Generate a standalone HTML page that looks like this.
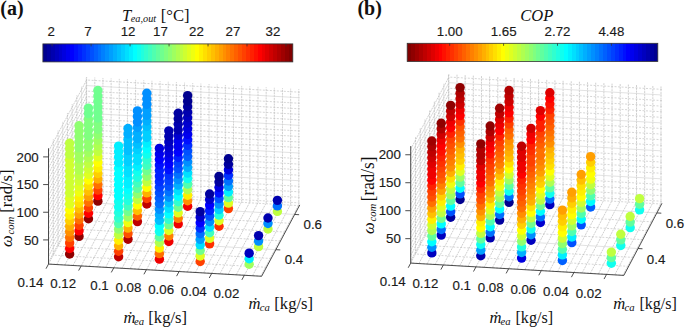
<!DOCTYPE html><html><head><meta charset="utf-8"><style>
html,body{margin:0;padding:0;background:#fff;}
body{width:685px;height:328px;overflow:hidden;position:relative;}
svg{position:absolute;left:0;top:0;}
.gm{stroke:#c0c0c0;stroke-width:0.65;stroke-dasharray:2 1.5;fill:none}
.gv{stroke:#bcbcbc;stroke-width:0.7;stroke-dasharray:2 0.8;fill:none}
.gMd{stroke:#d0d0d0;stroke-width:0.7;fill:none}
.gM{stroke:#d6d6d6;stroke-width:0.7;fill:none}
.ax line{stroke:#3a3a3a;stroke-width:0.9}
.tl text{font-family:"Liberation Sans",sans-serif;font-size:13.3px;fill:#1a1a1a;stroke:#1a1a1a;stroke-width:0.15}
.sr{font-family:"Liberation Serif",serif;fill:#111}
</style></head><body>
<svg width="685" height="328" viewBox="0 0 685 328">

<g><line class="gv" x1="298.80" y1="204.89" x2="298.80" y2="89.17"/><line class="gv" x1="290.64" y1="204.43" x2="290.64" y2="88.70"/><line class="gv" x1="282.48" y1="203.96" x2="282.48" y2="88.23"/><line class="gv" x1="274.32" y1="203.49" x2="274.32" y2="87.77"/><line class="gv" x1="266.16" y1="203.03" x2="266.16" y2="87.30"/><line class="gv" x1="258.00" y1="202.56" x2="258.00" y2="86.84"/><line class="gv" x1="249.84" y1="202.09" x2="249.84" y2="86.37"/><line class="gv" x1="241.68" y1="201.63" x2="241.68" y2="85.90"/><line class="gv" x1="233.52" y1="201.16" x2="233.52" y2="85.44"/><line class="gv" x1="225.36" y1="200.70" x2="225.36" y2="84.97"/><line class="gv" x1="217.20" y1="200.23" x2="217.20" y2="84.50"/><line class="gv" x1="209.04" y1="199.76" x2="209.04" y2="84.04"/><line class="gv" x1="200.88" y1="199.30" x2="200.88" y2="83.57"/><line class="gv" x1="192.72" y1="198.83" x2="192.72" y2="83.11"/><line class="gv" x1="184.56" y1="198.36" x2="184.56" y2="82.64"/><line class="gv" x1="176.40" y1="197.90" x2="176.40" y2="82.17"/><line class="gv" x1="168.24" y1="197.43" x2="168.24" y2="81.71"/><line class="gv" x1="160.08" y1="196.97" x2="160.08" y2="81.24"/><line class="gv" x1="151.92" y1="196.50" x2="151.92" y2="80.77"/><line class="gv" x1="143.76" y1="196.03" x2="143.76" y2="80.31"/><line class="gv" x1="135.60" y1="195.57" x2="135.60" y2="79.84"/><line class="gv" x1="127.43" y1="195.10" x2="127.43" y2="79.38"/><line class="gv" x1="119.27" y1="194.63" x2="119.27" y2="78.91"/><line class="gv" x1="111.11" y1="194.17" x2="111.11" y2="78.44"/><line class="gv" x1="102.95" y1="193.70" x2="102.95" y2="77.98"/><line class="gv" x1="94.79" y1="193.23" x2="94.79" y2="77.51"/><line class="gv" x1="86.63" y1="192.77" x2="86.63" y2="77.04"/><line class="gm" x1="299.78" y1="202.90" x2="86.63" y2="190.72"/><line class="gm" x1="299.78" y1="197.37" x2="86.63" y2="185.19"/><line class="gm" x1="299.78" y1="191.83" x2="86.63" y2="179.65"/><line class="gm" x1="299.78" y1="186.30" x2="86.63" y2="174.12"/><line class="gM" x1="299.78" y1="180.76" x2="86.63" y2="168.58"/><line class="gm" x1="299.78" y1="175.23" x2="86.63" y2="163.05"/><line class="gm" x1="299.78" y1="169.69" x2="86.63" y2="157.51"/><line class="gm" x1="299.78" y1="164.16" x2="86.63" y2="151.98"/><line class="gm" x1="299.78" y1="158.62" x2="86.63" y2="146.45"/><line class="gM" x1="299.78" y1="153.09" x2="86.63" y2="140.91"/><line class="gm" x1="299.78" y1="147.56" x2="86.63" y2="135.38"/><line class="gm" x1="299.78" y1="142.02" x2="86.63" y2="129.84"/><line class="gm" x1="299.78" y1="136.49" x2="86.63" y2="124.31"/><line class="gm" x1="299.78" y1="130.95" x2="86.63" y2="118.77"/><line class="gM" x1="299.78" y1="125.42" x2="86.63" y2="113.24"/><line class="gm" x1="299.78" y1="119.88" x2="86.63" y2="107.70"/><line class="gm" x1="299.78" y1="114.35" x2="86.63" y2="102.17"/><line class="gm" x1="299.78" y1="108.82" x2="86.63" y2="96.64"/><line class="gm" x1="299.78" y1="103.28" x2="86.63" y2="91.10"/><line class="gM" x1="299.78" y1="97.75" x2="86.63" y2="85.57"/><line class="gm" x1="299.78" y1="92.21" x2="86.63" y2="80.03"/><line class="gv" x1="48.60" y1="263.92" x2="48.60" y2="148.20"/><line class="gv" x1="53.31" y1="255.12" x2="53.31" y2="139.39"/><line class="gv" x1="58.02" y1="246.31" x2="58.02" y2="130.59"/><line class="gM" x1="62.72" y1="237.51" x2="62.72" y2="121.78"/><line class="gv" x1="67.43" y1="228.70" x2="67.43" y2="112.97"/><line class="gv" x1="72.14" y1="219.89" x2="72.14" y2="104.17"/><line class="gv" x1="76.84" y1="211.09" x2="76.84" y2="95.36"/><line class="gM" x1="81.55" y1="202.28" x2="81.55" y2="86.56"/><line class="gv" x1="86.26" y1="193.47" x2="86.26" y2="77.75"/><line class="gv" x1="48.51" y1="262.05" x2="86.63" y2="190.72"/><line class="gv" x1="48.51" y1="256.52" x2="86.63" y2="185.19"/><line class="gv" x1="48.51" y1="250.98" x2="86.63" y2="179.65"/><line class="gv" x1="48.51" y1="245.45" x2="86.63" y2="174.12"/><line class="gMd" x1="48.51" y1="239.92" x2="86.63" y2="168.58"/><line class="gv" x1="48.51" y1="234.38" x2="86.63" y2="163.05"/><line class="gv" x1="48.51" y1="228.85" x2="86.63" y2="157.51"/><line class="gv" x1="48.51" y1="223.31" x2="86.63" y2="151.98"/><line class="gv" x1="48.51" y1="217.78" x2="86.63" y2="146.45"/><line class="gMd" x1="48.51" y1="212.24" x2="86.63" y2="140.91"/><line class="gv" x1="48.51" y1="206.71" x2="86.63" y2="135.38"/><line class="gv" x1="48.51" y1="201.17" x2="86.63" y2="129.84"/><line class="gv" x1="48.51" y1="195.64" x2="86.63" y2="124.31"/><line class="gv" x1="48.51" y1="190.11" x2="86.63" y2="118.77"/><line class="gMd" x1="48.51" y1="184.57" x2="86.63" y2="113.24"/><line class="gv" x1="48.51" y1="179.04" x2="86.63" y2="107.70"/><line class="gv" x1="48.51" y1="173.50" x2="86.63" y2="102.17"/><line class="gv" x1="48.51" y1="167.97" x2="86.63" y2="96.64"/><line class="gv" x1="48.51" y1="162.43" x2="86.63" y2="91.10"/><line class="gMd" x1="48.51" y1="156.90" x2="86.63" y2="85.57"/><line class="gv" x1="48.51" y1="151.37" x2="86.63" y2="80.03"/><line class="gv" x1="260.67" y1="276.22" x2="298.80" y2="204.89"/><line class="gv" x1="252.51" y1="275.76" x2="290.64" y2="204.43"/><line class="gv" x1="244.35" y1="275.29" x2="282.48" y2="203.96"/><line class="gv" x1="236.19" y1="274.83" x2="274.32" y2="203.49"/><line class="gv" x1="228.03" y1="274.36" x2="266.16" y2="203.03"/><line class="gv" x1="219.87" y1="273.89" x2="258.00" y2="202.56"/><line class="gv" x1="211.71" y1="273.43" x2="249.84" y2="202.09"/><line class="gv" x1="203.55" y1="272.96" x2="241.68" y2="201.63"/><line class="gv" x1="195.39" y1="272.49" x2="233.52" y2="201.16"/><line class="gv" x1="187.23" y1="272.03" x2="225.36" y2="200.70"/><line class="gv" x1="179.07" y1="271.56" x2="217.20" y2="200.23"/><line class="gv" x1="170.91" y1="271.10" x2="209.04" y2="199.76"/><line class="gv" x1="162.75" y1="270.63" x2="200.88" y2="199.30"/><line class="gv" x1="154.59" y1="270.16" x2="192.72" y2="198.83"/><line class="gv" x1="146.43" y1="269.70" x2="184.56" y2="198.36"/><line class="gv" x1="138.27" y1="269.23" x2="176.40" y2="197.90"/><line class="gv" x1="130.11" y1="268.76" x2="168.24" y2="197.43"/><line class="gv" x1="121.95" y1="268.30" x2="160.08" y2="196.97"/><line class="gv" x1="113.79" y1="267.83" x2="151.92" y2="196.50"/><line class="gv" x1="105.63" y1="267.36" x2="143.76" y2="196.03"/><line class="gv" x1="97.47" y1="266.90" x2="135.60" y2="195.57"/><line class="gv" x1="89.31" y1="266.43" x2="127.43" y2="195.10"/><line class="gv" x1="81.15" y1="265.97" x2="119.27" y2="194.63"/><line class="gv" x1="72.99" y1="265.50" x2="111.11" y2="194.17"/><line class="gv" x1="64.83" y1="265.03" x2="102.95" y2="193.70"/><line class="gv" x1="56.67" y1="264.57" x2="94.79" y2="193.23"/><line class="gv" x1="48.51" y1="264.10" x2="86.63" y2="192.77"/><line class="gm" x1="261.75" y1="276.10" x2="48.60" y2="263.92"/><line class="gm" x1="266.45" y1="267.30" x2="53.31" y2="255.12"/><line class="gm" x1="271.16" y1="258.49" x2="58.02" y2="246.31"/><line class="gM" x1="275.87" y1="249.68" x2="62.72" y2="237.51"/><line class="gm" x1="280.57" y1="240.88" x2="67.43" y2="228.70"/><line class="gm" x1="285.28" y1="232.07" x2="72.14" y2="219.89"/><line class="gm" x1="289.99" y1="223.27" x2="76.84" y2="211.09"/><line class="gM" x1="294.70" y1="214.46" x2="81.55" y2="202.28"/><line class="gm" x1="299.40" y1="205.65" x2="86.26" y2="193.47"/></g>
<g class="ax"><line x1="48.51" y1="264.10" x2="48.51" y2="148.38"/><line x1="48.51" y1="264.10" x2="261.65" y2="276.28"/><line x1="261.65" y1="276.28" x2="299.78" y2="204.95"/><line x1="48.51" y1="239.92" x2="43.11" y2="239.92"/><line x1="48.51" y1="212.24" x2="43.11" y2="212.24"/><line x1="48.51" y1="184.57" x2="43.11" y2="184.57"/><line x1="48.51" y1="156.90" x2="43.11" y2="156.90"/><line x1="48.51" y1="264.10" x2="46.01" y2="268.70"/><line x1="81.15" y1="265.97" x2="78.65" y2="270.57"/><line x1="113.79" y1="267.83" x2="111.29" y2="272.43"/><line x1="146.43" y1="269.70" x2="143.93" y2="274.30"/><line x1="179.07" y1="271.56" x2="176.57" y2="276.16"/><line x1="211.71" y1="273.43" x2="209.21" y2="278.03"/><line x1="244.35" y1="275.29" x2="241.85" y2="279.89"/><line x1="275.87" y1="249.68" x2="280.27" y2="249.93"/><line x1="294.70" y1="214.46" x2="299.10" y2="214.71"/></g>
<g class="tl"><text x="38.71" y="244.52" text-anchor="end">50</text><text x="38.71" y="216.84" text-anchor="end">100</text><text x="38.71" y="189.17" text-anchor="end">150</text><text x="38.71" y="161.50" text-anchor="end">200</text><text x="43.51" y="286.60" text-anchor="end">0.14</text><text x="76.15" y="288.47" text-anchor="end">0.12</text><text x="108.79" y="290.33" text-anchor="end">0.1</text><text x="141.43" y="292.20" text-anchor="end">0.08</text><text x="174.07" y="294.06" text-anchor="end">0.06</text><text x="206.71" y="295.93" text-anchor="end">0.04</text><text x="239.35" y="297.79" text-anchor="end">0.02</text><text x="284.67" y="263.98">0.4</text><text x="303.50" y="228.76">0.6</text></g>
<g><circle cx="97.87" cy="201.16" r="4.70" fill="#8f0000"/><circle cx="97.87" cy="195.63" r="4.70" fill="#ff0000"/><circle cx="97.87" cy="190.10" r="4.70" fill="#ff4000"/><circle cx="97.87" cy="184.56" r="4.70" fill="#ff7000"/><circle cx="97.87" cy="179.03" r="4.70" fill="#ffaf00"/><circle cx="97.87" cy="173.49" r="4.70" fill="#ffcf00"/><circle cx="97.87" cy="167.96" r="4.70" fill="#ffef00"/><circle cx="97.87" cy="162.42" r="4.70" fill="#ffff00"/><circle cx="97.87" cy="156.89" r="4.70" fill="#dfff20"/><circle cx="97.87" cy="151.35" r="4.70" fill="#bfff40"/><circle cx="97.87" cy="145.82" r="4.70" fill="#afff50"/><circle cx="97.87" cy="140.29" r="4.70" fill="#9fff60"/><circle cx="97.87" cy="134.75" r="4.70" fill="#8fff70"/><circle cx="97.87" cy="129.22" r="4.70" fill="#80ff80"/><circle cx="97.87" cy="123.68" r="4.70" fill="#80ff80"/><circle cx="97.87" cy="118.15" r="4.70" fill="#70ff8f"/><circle cx="97.87" cy="112.61" r="4.70" fill="#70ff8f"/><circle cx="97.87" cy="107.08" r="4.70" fill="#70ff8f"/><circle cx="97.87" cy="101.55" r="4.70" fill="#70ff8f"/><circle cx="97.87" cy="96.01" r="4.70" fill="#70ff8f"/><circle cx="97.87" cy="90.48" r="4.70" fill="#70ff8f"/><circle cx="88.46" cy="218.78" r="4.70" fill="#8f0000"/><circle cx="88.46" cy="213.24" r="4.70" fill="#ff0000"/><circle cx="88.46" cy="207.71" r="4.70" fill="#ff4000"/><circle cx="88.46" cy="202.17" r="4.70" fill="#ff7000"/><circle cx="88.46" cy="196.64" r="4.70" fill="#ff9f00"/><circle cx="88.46" cy="191.11" r="4.70" fill="#ffbf00"/><circle cx="88.46" cy="185.57" r="4.70" fill="#ffdf00"/><circle cx="88.46" cy="180.04" r="4.70" fill="#ffff00"/><circle cx="88.46" cy="174.50" r="4.70" fill="#dfff20"/><circle cx="88.46" cy="168.97" r="4.70" fill="#cfff30"/><circle cx="88.46" cy="163.43" r="4.70" fill="#bfff40"/><circle cx="88.46" cy="157.90" r="4.70" fill="#afff50"/><circle cx="88.46" cy="152.36" r="4.70" fill="#9fff60"/><circle cx="88.46" cy="146.83" r="4.70" fill="#8fff70"/><circle cx="88.46" cy="141.30" r="4.70" fill="#8fff70"/><circle cx="88.46" cy="135.76" r="4.70" fill="#80ff80"/><circle cx="88.46" cy="130.23" r="4.70" fill="#80ff80"/><circle cx="88.46" cy="124.69" r="4.70" fill="#80ff80"/><circle cx="88.46" cy="119.16" r="4.70" fill="#80ff80"/><circle cx="88.46" cy="113.62" r="4.70" fill="#70ff8f"/><circle cx="88.46" cy="108.09" r="4.70" fill="#70ff8f"/><circle cx="79.04" cy="236.39" r="4.70" fill="#8f0000"/><circle cx="79.04" cy="230.86" r="4.70" fill="#ff0000"/><circle cx="79.04" cy="225.32" r="4.70" fill="#ff4000"/><circle cx="79.04" cy="219.79" r="4.70" fill="#ff7000"/><circle cx="79.04" cy="214.25" r="4.70" fill="#ff9f00"/><circle cx="79.04" cy="208.72" r="4.70" fill="#ffbf00"/><circle cx="79.04" cy="203.18" r="4.70" fill="#ffdf00"/><circle cx="79.04" cy="197.65" r="4.70" fill="#ffef00"/><circle cx="79.04" cy="192.11" r="4.70" fill="#efff10"/><circle cx="79.04" cy="186.58" r="4.70" fill="#dfff20"/><circle cx="79.04" cy="181.05" r="4.70" fill="#cfff30"/><circle cx="79.04" cy="175.51" r="4.70" fill="#bfff40"/><circle cx="79.04" cy="169.98" r="4.70" fill="#afff50"/><circle cx="79.04" cy="164.44" r="4.70" fill="#afff50"/><circle cx="79.04" cy="158.91" r="4.70" fill="#9fff60"/><circle cx="79.04" cy="153.37" r="4.70" fill="#9fff60"/><circle cx="79.04" cy="147.84" r="4.70" fill="#8fff70"/><circle cx="79.04" cy="142.31" r="4.70" fill="#8fff70"/><circle cx="79.04" cy="136.77" r="4.70" fill="#8fff70"/><circle cx="79.04" cy="131.24" r="4.70" fill="#8fff70"/><circle cx="79.04" cy="125.70" r="4.70" fill="#8fff70"/><circle cx="69.63" cy="254.00" r="4.70" fill="#8f0000"/><circle cx="69.63" cy="248.47" r="4.70" fill="#ff0000"/><circle cx="69.63" cy="242.93" r="4.70" fill="#ff4000"/><circle cx="69.63" cy="237.40" r="4.70" fill="#ff7000"/><circle cx="69.63" cy="231.87" r="4.70" fill="#ff8f00"/><circle cx="69.63" cy="226.33" r="4.70" fill="#ffaf00"/><circle cx="69.63" cy="220.80" r="4.70" fill="#ffcf00"/><circle cx="69.63" cy="215.26" r="4.70" fill="#ffef00"/><circle cx="69.63" cy="209.73" r="4.70" fill="#ffff00"/><circle cx="69.63" cy="204.19" r="4.70" fill="#dfff20"/><circle cx="69.63" cy="198.66" r="4.70" fill="#dfff20"/><circle cx="69.63" cy="193.12" r="4.70" fill="#cfff30"/><circle cx="69.63" cy="187.59" r="4.70" fill="#cfff30"/><circle cx="69.63" cy="182.06" r="4.70" fill="#cfff30"/><circle cx="69.63" cy="176.52" r="4.70" fill="#cfff30"/><circle cx="69.63" cy="170.99" r="4.70" fill="#cfff30"/><circle cx="69.63" cy="165.45" r="4.70" fill="#cfff30"/><circle cx="69.63" cy="159.92" r="4.70" fill="#cfff30"/><circle cx="69.63" cy="154.38" r="4.70" fill="#bfff40"/><circle cx="69.63" cy="148.85" r="4.70" fill="#bfff40"/><circle cx="69.63" cy="143.32" r="4.70" fill="#bfff40"/><circle cx="146.83" cy="203.96" r="4.70" fill="#bf0000"/><circle cx="146.83" cy="198.43" r="4.70" fill="#ff4000"/><circle cx="146.83" cy="192.89" r="4.70" fill="#ffaf00"/><circle cx="146.83" cy="187.36" r="4.70" fill="#ffff00"/><circle cx="146.83" cy="181.82" r="4.70" fill="#bfff40"/><circle cx="146.83" cy="176.29" r="4.70" fill="#8fff70"/><circle cx="146.83" cy="170.76" r="4.70" fill="#70ff8f"/><circle cx="146.83" cy="165.22" r="4.70" fill="#40ffbf"/><circle cx="146.83" cy="159.69" r="4.70" fill="#30ffcf"/><circle cx="146.83" cy="154.15" r="4.70" fill="#10ffef"/><circle cx="146.83" cy="148.62" r="4.70" fill="#00ffff"/><circle cx="146.83" cy="143.08" r="4.70" fill="#00efff"/><circle cx="146.83" cy="137.55" r="4.70" fill="#00cfff"/><circle cx="146.83" cy="132.01" r="4.70" fill="#00cfff"/><circle cx="146.83" cy="126.48" r="4.70" fill="#00bfff"/><circle cx="146.83" cy="120.95" r="4.70" fill="#00afff"/><circle cx="146.83" cy="115.41" r="4.70" fill="#009fff"/><circle cx="146.83" cy="109.88" r="4.70" fill="#009fff"/><circle cx="146.83" cy="104.34" r="4.70" fill="#008fff"/><circle cx="146.83" cy="98.81" r="4.70" fill="#008fff"/><circle cx="146.83" cy="93.27" r="4.70" fill="#008fff"/><circle cx="137.42" cy="221.57" r="4.70" fill="#bf0000"/><circle cx="137.42" cy="216.04" r="4.70" fill="#ff6000"/><circle cx="137.42" cy="210.51" r="4.70" fill="#ffbf00"/><circle cx="137.42" cy="204.97" r="4.70" fill="#ffff00"/><circle cx="137.42" cy="199.44" r="4.70" fill="#bfff40"/><circle cx="137.42" cy="193.90" r="4.70" fill="#8fff70"/><circle cx="137.42" cy="188.37" r="4.70" fill="#60ff9f"/><circle cx="137.42" cy="182.83" r="4.70" fill="#40ffbf"/><circle cx="137.42" cy="177.30" r="4.70" fill="#20ffdf"/><circle cx="137.42" cy="171.77" r="4.70" fill="#10ffef"/><circle cx="137.42" cy="166.23" r="4.70" fill="#00efff"/><circle cx="137.42" cy="160.70" r="4.70" fill="#00dfff"/><circle cx="137.42" cy="155.16" r="4.70" fill="#00dfff"/><circle cx="137.42" cy="149.63" r="4.70" fill="#00cfff"/><circle cx="137.42" cy="144.09" r="4.70" fill="#00bfff"/><circle cx="137.42" cy="138.56" r="4.70" fill="#00afff"/><circle cx="137.42" cy="133.02" r="4.70" fill="#00afff"/><circle cx="137.42" cy="127.49" r="4.70" fill="#009fff"/><circle cx="137.42" cy="121.96" r="4.70" fill="#008fff"/><circle cx="137.42" cy="116.42" r="4.70" fill="#008fff"/><circle cx="137.42" cy="110.89" r="4.70" fill="#008fff"/><circle cx="128.00" cy="239.19" r="4.70" fill="#af0000"/><circle cx="128.00" cy="233.65" r="4.70" fill="#ff5000"/><circle cx="128.00" cy="228.12" r="4.70" fill="#ffaf00"/><circle cx="128.00" cy="222.58" r="4.70" fill="#efff10"/><circle cx="128.00" cy="217.05" r="4.70" fill="#9fff60"/><circle cx="128.00" cy="211.52" r="4.70" fill="#70ff8f"/><circle cx="128.00" cy="205.98" r="4.70" fill="#40ffbf"/><circle cx="128.00" cy="200.45" r="4.70" fill="#20ffdf"/><circle cx="128.00" cy="194.91" r="4.70" fill="#10ffef"/><circle cx="128.00" cy="189.38" r="4.70" fill="#00ffff"/><circle cx="128.00" cy="183.84" r="4.70" fill="#00efff"/><circle cx="128.00" cy="178.31" r="4.70" fill="#00efff"/><circle cx="128.00" cy="172.78" r="4.70" fill="#00dfff"/><circle cx="128.00" cy="167.24" r="4.70" fill="#00dfff"/><circle cx="128.00" cy="161.71" r="4.70" fill="#00cfff"/><circle cx="128.00" cy="156.17" r="4.70" fill="#00cfff"/><circle cx="128.00" cy="150.64" r="4.70" fill="#00bfff"/><circle cx="128.00" cy="145.10" r="4.70" fill="#00bfff"/><circle cx="128.00" cy="139.57" r="4.70" fill="#00bfff"/><circle cx="128.00" cy="134.03" r="4.70" fill="#00afff"/><circle cx="128.00" cy="128.50" r="4.70" fill="#00afff"/><circle cx="118.59" cy="256.80" r="4.70" fill="#bf0000"/><circle cx="118.59" cy="251.27" r="4.70" fill="#ff4000"/><circle cx="118.59" cy="245.73" r="4.70" fill="#ffaf00"/><circle cx="118.59" cy="240.20" r="4.70" fill="#ffef00"/><circle cx="118.59" cy="234.66" r="4.70" fill="#bfff40"/><circle cx="118.59" cy="229.13" r="4.70" fill="#8fff70"/><circle cx="118.59" cy="223.59" r="4.70" fill="#50ffaf"/><circle cx="118.59" cy="218.06" r="4.70" fill="#30ffcf"/><circle cx="118.59" cy="212.53" r="4.70" fill="#20ffdf"/><circle cx="118.59" cy="206.99" r="4.70" fill="#10ffef"/><circle cx="118.59" cy="201.46" r="4.70" fill="#10ffef"/><circle cx="118.59" cy="195.92" r="4.70" fill="#00ffff"/><circle cx="118.59" cy="190.39" r="4.70" fill="#00ffff"/><circle cx="118.59" cy="184.85" r="4.70" fill="#00ffff"/><circle cx="118.59" cy="179.32" r="4.70" fill="#00ffff"/><circle cx="118.59" cy="173.78" r="4.70" fill="#00ffff"/><circle cx="118.59" cy="168.25" r="4.70" fill="#00ffff"/><circle cx="118.59" cy="162.72" r="4.70" fill="#00efff"/><circle cx="118.59" cy="157.18" r="4.70" fill="#00efff"/><circle cx="118.59" cy="151.65" r="4.70" fill="#00efff"/><circle cx="118.59" cy="146.11" r="4.70" fill="#00efff"/><circle cx="187.63" cy="206.29" r="4.70" fill="#ef0000"/><circle cx="187.63" cy="200.76" r="4.70" fill="#ff8f00"/><circle cx="187.63" cy="195.22" r="4.70" fill="#ffef00"/><circle cx="187.63" cy="189.69" r="4.70" fill="#afff50"/><circle cx="187.63" cy="184.16" r="4.70" fill="#50ffaf"/><circle cx="187.63" cy="178.62" r="4.70" fill="#10ffef"/><circle cx="187.63" cy="173.09" r="4.70" fill="#00dfff"/><circle cx="187.63" cy="167.55" r="4.70" fill="#00afff"/><circle cx="187.63" cy="162.02" r="4.70" fill="#008fff"/><circle cx="187.63" cy="156.48" r="4.70" fill="#0060ff"/><circle cx="187.63" cy="150.95" r="4.70" fill="#0050ff"/><circle cx="187.63" cy="145.42" r="4.70" fill="#0030ff"/><circle cx="187.63" cy="139.88" r="4.70" fill="#0010ff"/><circle cx="187.63" cy="134.35" r="4.70" fill="#0000ef"/><circle cx="187.63" cy="128.81" r="4.70" fill="#0000df"/><circle cx="187.63" cy="123.28" r="4.70" fill="#0000cf"/><circle cx="187.63" cy="117.74" r="4.70" fill="#0000bf"/><circle cx="187.63" cy="112.21" r="4.70" fill="#0000af"/><circle cx="187.63" cy="106.67" r="4.70" fill="#00009f"/><circle cx="187.63" cy="101.14" r="4.70" fill="#00008f"/><circle cx="187.63" cy="95.61" r="4.70" fill="#00008f"/><circle cx="178.22" cy="223.91" r="4.70" fill="#ef0000"/><circle cx="178.22" cy="218.37" r="4.70" fill="#ff8000"/><circle cx="178.22" cy="212.84" r="4.70" fill="#dfff20"/><circle cx="178.22" cy="207.30" r="4.70" fill="#70ff8f"/><circle cx="178.22" cy="201.77" r="4.70" fill="#30ffcf"/><circle cx="178.22" cy="196.23" r="4.70" fill="#00ffff"/><circle cx="178.22" cy="190.70" r="4.70" fill="#00dfff"/><circle cx="178.22" cy="185.17" r="4.70" fill="#00afff"/><circle cx="178.22" cy="179.63" r="4.70" fill="#008fff"/><circle cx="178.22" cy="174.10" r="4.70" fill="#0070ff"/><circle cx="178.22" cy="168.56" r="4.70" fill="#0050ff"/><circle cx="178.22" cy="163.03" r="4.70" fill="#0040ff"/><circle cx="178.22" cy="157.49" r="4.70" fill="#0020ff"/><circle cx="178.22" cy="151.96" r="4.70" fill="#0000ff"/><circle cx="178.22" cy="146.42" r="4.70" fill="#0000ef"/><circle cx="178.22" cy="140.89" r="4.70" fill="#0000ef"/><circle cx="178.22" cy="135.36" r="4.70" fill="#0000cf"/><circle cx="178.22" cy="129.82" r="4.70" fill="#0000af"/><circle cx="178.22" cy="124.29" r="4.70" fill="#0000af"/><circle cx="178.22" cy="118.75" r="4.70" fill="#00009f"/><circle cx="178.22" cy="113.22" r="4.70" fill="#00009f"/><circle cx="168.81" cy="241.52" r="4.70" fill="#ef0000"/><circle cx="168.81" cy="235.98" r="4.70" fill="#ff8000"/><circle cx="168.81" cy="230.45" r="4.70" fill="#dfff20"/><circle cx="168.81" cy="224.92" r="4.70" fill="#70ff8f"/><circle cx="168.81" cy="219.38" r="4.70" fill="#30ffcf"/><circle cx="168.81" cy="213.85" r="4.70" fill="#00ffff"/><circle cx="168.81" cy="208.31" r="4.70" fill="#00dfff"/><circle cx="168.81" cy="202.78" r="4.70" fill="#00bfff"/><circle cx="168.81" cy="197.24" r="4.70" fill="#008fff"/><circle cx="168.81" cy="191.71" r="4.70" fill="#0070ff"/><circle cx="168.81" cy="186.18" r="4.70" fill="#0050ff"/><circle cx="168.81" cy="180.64" r="4.70" fill="#0040ff"/><circle cx="168.81" cy="175.11" r="4.70" fill="#0030ff"/><circle cx="168.81" cy="169.57" r="4.70" fill="#0010ff"/><circle cx="168.81" cy="164.04" r="4.70" fill="#0000ff"/><circle cx="168.81" cy="158.50" r="4.70" fill="#0000ef"/><circle cx="168.81" cy="152.97" r="4.70" fill="#0000df"/><circle cx="168.81" cy="147.43" r="4.70" fill="#0000cf"/><circle cx="168.81" cy="141.90" r="4.70" fill="#0000bf"/><circle cx="168.81" cy="136.37" r="4.70" fill="#0000af"/><circle cx="168.81" cy="130.83" r="4.70" fill="#0000af"/><circle cx="159.39" cy="259.13" r="4.70" fill="#ef0000"/><circle cx="159.39" cy="253.60" r="4.70" fill="#ff7000"/><circle cx="159.39" cy="248.06" r="4.70" fill="#ffef00"/><circle cx="159.39" cy="242.53" r="4.70" fill="#afff50"/><circle cx="159.39" cy="236.99" r="4.70" fill="#60ff9f"/><circle cx="159.39" cy="231.46" r="4.70" fill="#10ffef"/><circle cx="159.39" cy="225.93" r="4.70" fill="#00ffff"/><circle cx="159.39" cy="220.39" r="4.70" fill="#00bfff"/><circle cx="159.39" cy="214.86" r="4.70" fill="#00afff"/><circle cx="159.39" cy="209.32" r="4.70" fill="#008fff"/><circle cx="159.39" cy="203.79" r="4.70" fill="#0070ff"/><circle cx="159.39" cy="198.25" r="4.70" fill="#0060ff"/><circle cx="159.39" cy="192.72" r="4.70" fill="#0050ff"/><circle cx="159.39" cy="187.18" r="4.70" fill="#0040ff"/><circle cx="159.39" cy="181.65" r="4.70" fill="#0030ff"/><circle cx="159.39" cy="176.12" r="4.70" fill="#0020ff"/><circle cx="159.39" cy="170.58" r="4.70" fill="#0020ff"/><circle cx="159.39" cy="165.05" r="4.70" fill="#0010ff"/><circle cx="159.39" cy="159.51" r="4.70" fill="#0000ff"/><circle cx="159.39" cy="153.98" r="4.70" fill="#0000ef"/><circle cx="159.39" cy="148.44" r="4.70" fill="#0000df"/><circle cx="228.43" cy="208.62" r="4.70" fill="#ff4000"/><circle cx="228.43" cy="203.09" r="4.70" fill="#dfff20"/><circle cx="228.43" cy="197.56" r="4.70" fill="#60ff9f"/><circle cx="228.43" cy="192.02" r="4.70" fill="#00efff"/><circle cx="228.43" cy="186.49" r="4.70" fill="#009fff"/><circle cx="228.43" cy="180.95" r="4.70" fill="#0070ff"/><circle cx="228.43" cy="175.42" r="4.70" fill="#0030ff"/><circle cx="228.43" cy="169.88" r="4.70" fill="#0000df"/><circle cx="228.43" cy="164.35" r="4.70" fill="#00009f"/><circle cx="228.43" cy="158.82" r="4.70" fill="#00008f"/><circle cx="219.02" cy="226.24" r="4.70" fill="#ff3000"/><circle cx="219.02" cy="220.70" r="4.70" fill="#dfff20"/><circle cx="219.02" cy="215.17" r="4.70" fill="#20ffdf"/><circle cx="219.02" cy="209.63" r="4.70" fill="#00cfff"/><circle cx="219.02" cy="204.10" r="4.70" fill="#008fff"/><circle cx="219.02" cy="198.57" r="4.70" fill="#0050ff"/><circle cx="219.02" cy="193.03" r="4.70" fill="#0010ff"/><circle cx="219.02" cy="187.50" r="4.70" fill="#0000df"/><circle cx="219.02" cy="181.96" r="4.70" fill="#00009f"/><circle cx="219.02" cy="176.43" r="4.70" fill="#00008f"/><circle cx="209.61" cy="243.85" r="4.70" fill="#ff3000"/><circle cx="209.61" cy="238.32" r="4.70" fill="#dfff20"/><circle cx="209.61" cy="232.78" r="4.70" fill="#40ffbf"/><circle cx="209.61" cy="227.25" r="4.70" fill="#00dfff"/><circle cx="209.61" cy="221.71" r="4.70" fill="#008fff"/><circle cx="209.61" cy="216.18" r="4.70" fill="#0050ff"/><circle cx="209.61" cy="210.64" r="4.70" fill="#0020ff"/><circle cx="209.61" cy="205.11" r="4.70" fill="#0000ff"/><circle cx="209.61" cy="199.58" r="4.70" fill="#0000cf"/><circle cx="209.61" cy="194.04" r="4.70" fill="#00009f"/><circle cx="200.19" cy="261.46" r="4.70" fill="#ff4000"/><circle cx="200.19" cy="255.93" r="4.70" fill="#dfff20"/><circle cx="200.19" cy="250.39" r="4.70" fill="#70ff8f"/><circle cx="200.19" cy="244.86" r="4.70" fill="#00dfff"/><circle cx="200.19" cy="239.33" r="4.70" fill="#009fff"/><circle cx="200.19" cy="233.79" r="4.70" fill="#0070ff"/><circle cx="200.19" cy="228.26" r="4.70" fill="#0030ff"/><circle cx="200.19" cy="222.72" r="4.70" fill="#0000ff"/><circle cx="200.19" cy="217.19" r="4.70" fill="#0000cf"/><circle cx="200.19" cy="211.65" r="4.70" fill="#00009f"/><circle cx="277.40" cy="211.42" r="4.70" fill="#bfff40"/><circle cx="277.40" cy="205.89" r="4.70" fill="#0070ff"/><circle cx="277.40" cy="200.35" r="4.70" fill="#0000af"/><circle cx="267.98" cy="229.04" r="4.70" fill="#bfff40"/><circle cx="267.98" cy="223.50" r="4.70" fill="#008fff"/><circle cx="267.98" cy="217.97" r="4.70" fill="#0000af"/><circle cx="258.57" cy="246.65" r="4.70" fill="#bfff40"/><circle cx="258.57" cy="241.11" r="4.70" fill="#008fff"/><circle cx="258.57" cy="235.58" r="4.70" fill="#0000af"/><circle cx="249.15" cy="264.26" r="4.70" fill="#9fff60"/><circle cx="249.15" cy="258.73" r="4.70" fill="#00efff"/><circle cx="249.15" cy="253.19" r="4.70" fill="#0000bf"/></g>
<g><line class="gv" x1="661.00" y1="203.26" x2="661.00" y2="86.30"/><line class="gv" x1="652.84" y1="202.79" x2="652.84" y2="85.82"/><line class="gv" x1="644.68" y1="202.32" x2="644.68" y2="85.35"/><line class="gv" x1="636.52" y1="201.84" x2="636.52" y2="84.88"/><line class="gv" x1="628.36" y1="201.37" x2="628.36" y2="84.41"/><line class="gv" x1="620.20" y1="200.90" x2="620.20" y2="83.94"/><line class="gv" x1="612.04" y1="200.43" x2="612.04" y2="83.47"/><line class="gv" x1="603.88" y1="199.96" x2="603.88" y2="83.00"/><line class="gv" x1="595.72" y1="199.49" x2="595.72" y2="82.53"/><line class="gv" x1="587.56" y1="199.02" x2="587.56" y2="82.05"/><line class="gv" x1="579.40" y1="198.55" x2="579.40" y2="81.58"/><line class="gv" x1="571.24" y1="198.07" x2="571.24" y2="81.11"/><line class="gv" x1="563.08" y1="197.60" x2="563.08" y2="80.64"/><line class="gv" x1="554.92" y1="197.13" x2="554.92" y2="80.17"/><line class="gv" x1="546.76" y1="196.66" x2="546.76" y2="79.70"/><line class="gv" x1="538.60" y1="196.19" x2="538.60" y2="79.23"/><line class="gv" x1="530.44" y1="195.72" x2="530.44" y2="78.76"/><line class="gv" x1="522.28" y1="195.25" x2="522.28" y2="78.28"/><line class="gv" x1="514.12" y1="194.78" x2="514.12" y2="77.81"/><line class="gv" x1="505.96" y1="194.30" x2="505.96" y2="77.34"/><line class="gv" x1="497.80" y1="193.83" x2="497.80" y2="76.87"/><line class="gv" x1="489.63" y1="193.36" x2="489.63" y2="76.40"/><line class="gv" x1="481.47" y1="192.89" x2="481.47" y2="75.93"/><line class="gv" x1="473.31" y1="192.42" x2="473.31" y2="75.46"/><line class="gv" x1="465.15" y1="191.95" x2="465.15" y2="74.99"/><line class="gv" x1="456.99" y1="191.48" x2="456.99" y2="74.51"/><line class="gv" x1="448.83" y1="191.01" x2="448.83" y2="74.04"/><line class="gm" x1="661.98" y1="201.25" x2="448.83" y2="188.94"/><line class="gm" x1="661.98" y1="195.65" x2="448.83" y2="183.34"/><line class="gm" x1="661.98" y1="190.06" x2="448.83" y2="177.75"/><line class="gm" x1="661.98" y1="184.46" x2="448.83" y2="172.15"/><line class="gM" x1="661.98" y1="178.87" x2="448.83" y2="166.56"/><line class="gm" x1="661.98" y1="173.28" x2="448.83" y2="160.97"/><line class="gm" x1="661.98" y1="167.68" x2="448.83" y2="155.37"/><line class="gm" x1="661.98" y1="162.09" x2="448.83" y2="149.78"/><line class="gm" x1="661.98" y1="156.50" x2="448.83" y2="144.19"/><line class="gM" x1="661.98" y1="150.90" x2="448.83" y2="138.59"/><line class="gm" x1="661.98" y1="145.31" x2="448.83" y2="133.00"/><line class="gm" x1="661.98" y1="139.72" x2="448.83" y2="127.41"/><line class="gm" x1="661.98" y1="134.12" x2="448.83" y2="121.81"/><line class="gm" x1="661.98" y1="128.53" x2="448.83" y2="116.22"/><line class="gM" x1="661.98" y1="122.93" x2="448.83" y2="110.63"/><line class="gm" x1="661.98" y1="117.34" x2="448.83" y2="105.03"/><line class="gm" x1="661.98" y1="111.75" x2="448.83" y2="99.44"/><line class="gm" x1="661.98" y1="106.15" x2="448.83" y2="93.84"/><line class="gm" x1="661.98" y1="100.56" x2="448.83" y2="88.25"/><line class="gM" x1="661.98" y1="94.97" x2="448.83" y2="82.66"/><line class="gm" x1="661.98" y1="89.37" x2="448.83" y2="77.06"/><line class="gv" x1="410.80" y1="262.92" x2="410.80" y2="145.96"/><line class="gv" x1="415.51" y1="254.02" x2="415.51" y2="137.06"/><line class="gv" x1="420.22" y1="245.12" x2="420.22" y2="128.16"/><line class="gM" x1="424.92" y1="236.22" x2="424.92" y2="119.26"/><line class="gv" x1="429.63" y1="227.32" x2="429.63" y2="110.36"/><line class="gv" x1="434.34" y1="218.42" x2="434.34" y2="101.46"/><line class="gv" x1="439.04" y1="209.52" x2="439.04" y2="92.56"/><line class="gM" x1="443.75" y1="200.62" x2="443.75" y2="83.66"/><line class="gv" x1="448.46" y1="191.72" x2="448.46" y2="74.75"/><line class="gv" x1="410.71" y1="261.03" x2="448.83" y2="188.94"/><line class="gv" x1="410.71" y1="255.44" x2="448.83" y2="183.34"/><line class="gv" x1="410.71" y1="249.84" x2="448.83" y2="177.75"/><line class="gv" x1="410.71" y1="244.25" x2="448.83" y2="172.15"/><line class="gMd" x1="410.71" y1="238.66" x2="448.83" y2="166.56"/><line class="gv" x1="410.71" y1="233.06" x2="448.83" y2="160.97"/><line class="gv" x1="410.71" y1="227.47" x2="448.83" y2="155.37"/><line class="gv" x1="410.71" y1="221.88" x2="448.83" y2="149.78"/><line class="gv" x1="410.71" y1="216.28" x2="448.83" y2="144.19"/><line class="gMd" x1="410.71" y1="210.69" x2="448.83" y2="138.59"/><line class="gv" x1="410.71" y1="205.09" x2="448.83" y2="133.00"/><line class="gv" x1="410.71" y1="199.50" x2="448.83" y2="127.41"/><line class="gv" x1="410.71" y1="193.91" x2="448.83" y2="121.81"/><line class="gv" x1="410.71" y1="188.31" x2="448.83" y2="116.22"/><line class="gMd" x1="410.71" y1="182.72" x2="448.83" y2="110.63"/><line class="gv" x1="410.71" y1="177.13" x2="448.83" y2="105.03"/><line class="gv" x1="410.71" y1="171.53" x2="448.83" y2="99.44"/><line class="gv" x1="410.71" y1="165.94" x2="448.83" y2="93.84"/><line class="gv" x1="410.71" y1="160.35" x2="448.83" y2="88.25"/><line class="gMd" x1="410.71" y1="154.75" x2="448.83" y2="82.66"/><line class="gv" x1="410.71" y1="149.16" x2="448.83" y2="77.06"/><line class="gv" x1="622.87" y1="275.35" x2="661.00" y2="203.26"/><line class="gv" x1="614.71" y1="274.88" x2="652.84" y2="202.79"/><line class="gv" x1="606.55" y1="274.41" x2="644.68" y2="202.32"/><line class="gv" x1="598.39" y1="273.94" x2="636.52" y2="201.84"/><line class="gv" x1="590.23" y1="273.47" x2="628.36" y2="201.37"/><line class="gv" x1="582.07" y1="273.00" x2="620.20" y2="200.90"/><line class="gv" x1="573.91" y1="272.53" x2="612.04" y2="200.43"/><line class="gv" x1="565.75" y1="272.05" x2="603.88" y2="199.96"/><line class="gv" x1="557.59" y1="271.58" x2="595.72" y2="199.49"/><line class="gv" x1="549.43" y1="271.11" x2="587.56" y2="199.02"/><line class="gv" x1="541.27" y1="270.64" x2="579.40" y2="198.55"/><line class="gv" x1="533.11" y1="270.17" x2="571.24" y2="198.07"/><line class="gv" x1="524.95" y1="269.70" x2="563.08" y2="197.60"/><line class="gv" x1="516.79" y1="269.23" x2="554.92" y2="197.13"/><line class="gv" x1="508.63" y1="268.76" x2="546.76" y2="196.66"/><line class="gv" x1="500.47" y1="268.28" x2="538.60" y2="196.19"/><line class="gv" x1="492.31" y1="267.81" x2="530.44" y2="195.72"/><line class="gv" x1="484.15" y1="267.34" x2="522.28" y2="195.25"/><line class="gv" x1="475.99" y1="266.87" x2="514.12" y2="194.78"/><line class="gv" x1="467.83" y1="266.40" x2="505.96" y2="194.30"/><line class="gv" x1="459.67" y1="265.93" x2="497.80" y2="193.83"/><line class="gv" x1="451.51" y1="265.46" x2="489.63" y2="193.36"/><line class="gv" x1="443.35" y1="264.99" x2="481.47" y2="192.89"/><line class="gv" x1="435.19" y1="264.51" x2="473.31" y2="192.42"/><line class="gv" x1="427.03" y1="264.04" x2="465.15" y2="191.95"/><line class="gv" x1="418.87" y1="263.57" x2="456.99" y2="191.48"/><line class="gv" x1="410.71" y1="263.10" x2="448.83" y2="191.01"/><line class="gm" x1="623.95" y1="275.23" x2="410.80" y2="262.92"/><line class="gm" x1="628.65" y1="266.33" x2="415.51" y2="254.02"/><line class="gm" x1="633.36" y1="257.43" x2="420.22" y2="245.12"/><line class="gM" x1="638.07" y1="248.53" x2="424.92" y2="236.22"/><line class="gm" x1="642.77" y1="239.63" x2="429.63" y2="227.32"/><line class="gm" x1="647.48" y1="230.73" x2="434.34" y2="218.42"/><line class="gm" x1="652.19" y1="221.83" x2="439.04" y2="209.52"/><line class="gM" x1="656.90" y1="212.93" x2="443.75" y2="200.62"/><line class="gm" x1="661.60" y1="204.03" x2="448.46" y2="191.72"/></g>
<g class="ax"><line x1="410.71" y1="263.10" x2="410.71" y2="146.14"/><line x1="410.71" y1="263.10" x2="623.85" y2="275.41"/><line x1="623.85" y1="275.41" x2="661.98" y2="203.31"/><line x1="410.71" y1="238.66" x2="405.31" y2="238.66"/><line x1="410.71" y1="210.69" x2="405.31" y2="210.69"/><line x1="410.71" y1="182.72" x2="405.31" y2="182.72"/><line x1="410.71" y1="154.75" x2="405.31" y2="154.75"/><line x1="410.71" y1="263.10" x2="408.21" y2="267.75"/><line x1="443.35" y1="264.99" x2="440.85" y2="269.64"/><line x1="475.99" y1="266.87" x2="473.49" y2="271.52"/><line x1="508.63" y1="268.76" x2="506.13" y2="273.41"/><line x1="541.27" y1="270.64" x2="538.77" y2="275.29"/><line x1="573.91" y1="272.53" x2="571.41" y2="277.18"/><line x1="606.55" y1="274.41" x2="604.05" y2="279.06"/><line x1="638.07" y1="248.53" x2="642.47" y2="248.78"/><line x1="656.90" y1="212.93" x2="661.30" y2="213.18"/></g>
<g class="tl"><text x="400.91" y="243.26" text-anchor="end">50</text><text x="400.91" y="215.29" text-anchor="end">100</text><text x="400.91" y="187.32" text-anchor="end">150</text><text x="400.91" y="159.35" text-anchor="end">200</text><text x="405.71" y="286.40" text-anchor="end">0.14</text><text x="438.35" y="288.29" text-anchor="end">0.12</text><text x="470.99" y="290.17" text-anchor="end">0.1</text><text x="503.63" y="292.06" text-anchor="end">0.08</text><text x="536.27" y="293.94" text-anchor="end">0.06</text><text x="568.91" y="295.83" text-anchor="end">0.04</text><text x="601.55" y="297.71" text-anchor="end">0.02</text><text x="646.87" y="263.63">0.4</text><text x="665.70" y="228.03">0.6</text></g>
<g><circle cx="460.07" cy="199.49" r="4.70" fill="#00008f"/><circle cx="460.07" cy="193.90" r="4.70" fill="#0050ff"/><circle cx="460.07" cy="188.30" r="4.70" fill="#00ffff"/><circle cx="460.07" cy="182.71" r="4.70" fill="#60ff9f"/><circle cx="460.07" cy="177.12" r="4.70" fill="#9fff60"/><circle cx="460.07" cy="171.52" r="4.70" fill="#dfff20"/><circle cx="460.07" cy="165.93" r="4.70" fill="#ffef00"/><circle cx="460.07" cy="160.34" r="4.70" fill="#ffcf00"/><circle cx="460.07" cy="154.74" r="4.70" fill="#ffbf00"/><circle cx="460.07" cy="149.15" r="4.70" fill="#ffaf00"/><circle cx="460.07" cy="143.55" r="4.70" fill="#ff8f00"/><circle cx="460.07" cy="137.96" r="4.70" fill="#ff7000"/><circle cx="460.07" cy="132.37" r="4.70" fill="#ff6000"/><circle cx="460.07" cy="126.77" r="4.70" fill="#ff5000"/><circle cx="460.07" cy="121.18" r="4.70" fill="#ff3000"/><circle cx="460.07" cy="115.59" r="4.70" fill="#ff0000"/><circle cx="460.07" cy="109.99" r="4.70" fill="#ef0000"/><circle cx="460.07" cy="104.40" r="4.70" fill="#cf0000"/><circle cx="460.07" cy="98.81" r="4.70" fill="#bf0000"/><circle cx="460.07" cy="93.21" r="4.70" fill="#af0000"/><circle cx="460.07" cy="87.62" r="4.70" fill="#8f0000"/><circle cx="450.66" cy="217.29" r="4.70" fill="#00009f"/><circle cx="450.66" cy="211.70" r="4.70" fill="#0050ff"/><circle cx="450.66" cy="206.11" r="4.70" fill="#00ffff"/><circle cx="450.66" cy="200.51" r="4.70" fill="#60ff9f"/><circle cx="450.66" cy="194.92" r="4.70" fill="#9fff60"/><circle cx="450.66" cy="189.32" r="4.70" fill="#bfff40"/><circle cx="450.66" cy="183.73" r="4.70" fill="#efff10"/><circle cx="450.66" cy="178.14" r="4.70" fill="#ffdf00"/><circle cx="450.66" cy="172.54" r="4.70" fill="#ffaf00"/><circle cx="450.66" cy="166.95" r="4.70" fill="#ff8f00"/><circle cx="450.66" cy="161.36" r="4.70" fill="#ff8000"/><circle cx="450.66" cy="155.76" r="4.70" fill="#ff7000"/><circle cx="450.66" cy="150.17" r="4.70" fill="#ff6000"/><circle cx="450.66" cy="144.58" r="4.70" fill="#ff5000"/><circle cx="450.66" cy="138.98" r="4.70" fill="#ff4000"/><circle cx="450.66" cy="133.39" r="4.70" fill="#ff2000"/><circle cx="450.66" cy="127.79" r="4.70" fill="#ff0000"/><circle cx="450.66" cy="122.20" r="4.70" fill="#ef0000"/><circle cx="450.66" cy="116.61" r="4.70" fill="#cf0000"/><circle cx="450.66" cy="111.01" r="4.70" fill="#bf0000"/><circle cx="450.66" cy="105.42" r="4.70" fill="#8f0000"/><circle cx="441.24" cy="235.09" r="4.70" fill="#0000bf"/><circle cx="441.24" cy="229.50" r="4.70" fill="#0070ff"/><circle cx="441.24" cy="223.91" r="4.70" fill="#00ffff"/><circle cx="441.24" cy="218.31" r="4.70" fill="#70ff8f"/><circle cx="441.24" cy="212.72" r="4.70" fill="#bfff40"/><circle cx="441.24" cy="207.13" r="4.70" fill="#dfff20"/><circle cx="441.24" cy="201.53" r="4.70" fill="#ffef00"/><circle cx="441.24" cy="195.94" r="4.70" fill="#ffcf00"/><circle cx="441.24" cy="190.34" r="4.70" fill="#ff9f00"/><circle cx="441.24" cy="184.75" r="4.70" fill="#ff8000"/><circle cx="441.24" cy="179.16" r="4.70" fill="#ff6000"/><circle cx="441.24" cy="173.56" r="4.70" fill="#ff5000"/><circle cx="441.24" cy="167.97" r="4.70" fill="#ff4000"/><circle cx="441.24" cy="162.38" r="4.70" fill="#ff3000"/><circle cx="441.24" cy="156.78" r="4.70" fill="#ff2000"/><circle cx="441.24" cy="151.19" r="4.70" fill="#ff1000"/><circle cx="441.24" cy="145.60" r="4.70" fill="#ff0000"/><circle cx="441.24" cy="140.00" r="4.70" fill="#ef0000"/><circle cx="441.24" cy="134.41" r="4.70" fill="#cf0000"/><circle cx="441.24" cy="128.81" r="4.70" fill="#af0000"/><circle cx="441.24" cy="123.22" r="4.70" fill="#8f0000"/><circle cx="431.83" cy="252.90" r="4.70" fill="#0000bf"/><circle cx="431.83" cy="247.30" r="4.70" fill="#008fff"/><circle cx="431.83" cy="241.71" r="4.70" fill="#00ffff"/><circle cx="431.83" cy="236.11" r="4.70" fill="#60ff9f"/><circle cx="431.83" cy="230.52" r="4.70" fill="#afff50"/><circle cx="431.83" cy="224.93" r="4.70" fill="#cfff30"/><circle cx="431.83" cy="219.33" r="4.70" fill="#ffef00"/><circle cx="431.83" cy="213.74" r="4.70" fill="#ffbf00"/><circle cx="431.83" cy="208.15" r="4.70" fill="#ff9f00"/><circle cx="431.83" cy="202.55" r="4.70" fill="#ff7000"/><circle cx="431.83" cy="196.96" r="4.70" fill="#ff5000"/><circle cx="431.83" cy="191.37" r="4.70" fill="#ff4000"/><circle cx="431.83" cy="185.77" r="4.70" fill="#ff2000"/><circle cx="431.83" cy="180.18" r="4.70" fill="#ff0000"/><circle cx="431.83" cy="174.58" r="4.70" fill="#ef0000"/><circle cx="431.83" cy="168.99" r="4.70" fill="#ef0000"/><circle cx="431.83" cy="163.40" r="4.70" fill="#df0000"/><circle cx="431.83" cy="157.80" r="4.70" fill="#cf0000"/><circle cx="431.83" cy="152.21" r="4.70" fill="#bf0000"/><circle cx="431.83" cy="146.62" r="4.70" fill="#af0000"/><circle cx="431.83" cy="141.02" r="4.70" fill="#9f0000"/><circle cx="509.03" cy="202.32" r="4.70" fill="#00008f"/><circle cx="509.03" cy="196.72" r="4.70" fill="#0070ff"/><circle cx="509.03" cy="191.13" r="4.70" fill="#10ffef"/><circle cx="509.03" cy="185.54" r="4.70" fill="#60ff9f"/><circle cx="509.03" cy="179.94" r="4.70" fill="#9fff60"/><circle cx="509.03" cy="174.35" r="4.70" fill="#cfff30"/><circle cx="509.03" cy="168.76" r="4.70" fill="#ffff00"/><circle cx="509.03" cy="163.16" r="4.70" fill="#ffdf00"/><circle cx="509.03" cy="157.57" r="4.70" fill="#ffbf00"/><circle cx="509.03" cy="151.98" r="4.70" fill="#ffaf00"/><circle cx="509.03" cy="146.38" r="4.70" fill="#ff9f00"/><circle cx="509.03" cy="140.79" r="4.70" fill="#ff8f00"/><circle cx="509.03" cy="135.20" r="4.70" fill="#ff7000"/><circle cx="509.03" cy="129.60" r="4.70" fill="#ff6000"/><circle cx="509.03" cy="124.01" r="4.70" fill="#ff4000"/><circle cx="509.03" cy="118.41" r="4.70" fill="#ff2000"/><circle cx="509.03" cy="112.82" r="4.70" fill="#ff0000"/><circle cx="509.03" cy="107.23" r="4.70" fill="#ef0000"/><circle cx="509.03" cy="101.63" r="4.70" fill="#cf0000"/><circle cx="509.03" cy="96.04" r="4.70" fill="#bf0000"/><circle cx="509.03" cy="90.45" r="4.70" fill="#af0000"/><circle cx="499.62" cy="220.12" r="4.70" fill="#00009f"/><circle cx="499.62" cy="214.53" r="4.70" fill="#0070ff"/><circle cx="499.62" cy="208.93" r="4.70" fill="#00ffff"/><circle cx="499.62" cy="203.34" r="4.70" fill="#60ff9f"/><circle cx="499.62" cy="197.75" r="4.70" fill="#9fff60"/><circle cx="499.62" cy="192.15" r="4.70" fill="#bfff40"/><circle cx="499.62" cy="186.56" r="4.70" fill="#efff10"/><circle cx="499.62" cy="180.96" r="4.70" fill="#ffef00"/><circle cx="499.62" cy="175.37" r="4.70" fill="#ffbf00"/><circle cx="499.62" cy="169.78" r="4.70" fill="#ff9f00"/><circle cx="499.62" cy="164.18" r="4.70" fill="#ff8000"/><circle cx="499.62" cy="158.59" r="4.70" fill="#ff7000"/><circle cx="499.62" cy="153.00" r="4.70" fill="#ff6000"/><circle cx="499.62" cy="147.40" r="4.70" fill="#ff5000"/><circle cx="499.62" cy="141.81" r="4.70" fill="#ff4000"/><circle cx="499.62" cy="136.22" r="4.70" fill="#ff2000"/><circle cx="499.62" cy="130.62" r="4.70" fill="#ff0000"/><circle cx="499.62" cy="125.03" r="4.70" fill="#ef0000"/><circle cx="499.62" cy="119.43" r="4.70" fill="#df0000"/><circle cx="499.62" cy="113.84" r="4.70" fill="#bf0000"/><circle cx="499.62" cy="108.25" r="4.70" fill="#9f0000"/><circle cx="490.20" cy="237.92" r="4.70" fill="#0000af"/><circle cx="490.20" cy="232.33" r="4.70" fill="#0070ff"/><circle cx="490.20" cy="226.73" r="4.70" fill="#00ffff"/><circle cx="490.20" cy="221.14" r="4.70" fill="#50ffaf"/><circle cx="490.20" cy="215.55" r="4.70" fill="#afff50"/><circle cx="490.20" cy="209.95" r="4.70" fill="#dfff20"/><circle cx="490.20" cy="204.36" r="4.70" fill="#ffef00"/><circle cx="490.20" cy="198.77" r="4.70" fill="#ffbf00"/><circle cx="490.20" cy="193.17" r="4.70" fill="#ff9f00"/><circle cx="490.20" cy="187.58" r="4.70" fill="#ff8f00"/><circle cx="490.20" cy="181.99" r="4.70" fill="#ff7000"/><circle cx="490.20" cy="176.39" r="4.70" fill="#ff6000"/><circle cx="490.20" cy="170.80" r="4.70" fill="#ff5000"/><circle cx="490.20" cy="165.20" r="4.70" fill="#ff4000"/><circle cx="490.20" cy="159.61" r="4.70" fill="#ff3000"/><circle cx="490.20" cy="154.02" r="4.70" fill="#ff1000"/><circle cx="490.20" cy="148.42" r="4.70" fill="#ff0000"/><circle cx="490.20" cy="142.83" r="4.70" fill="#ef0000"/><circle cx="490.20" cy="137.24" r="4.70" fill="#cf0000"/><circle cx="490.20" cy="131.64" r="4.70" fill="#af0000"/><circle cx="490.20" cy="126.05" r="4.70" fill="#8f0000"/><circle cx="480.79" cy="255.72" r="4.70" fill="#0000af"/><circle cx="480.79" cy="250.13" r="4.70" fill="#009fff"/><circle cx="480.79" cy="244.54" r="4.70" fill="#10ffef"/><circle cx="480.79" cy="238.94" r="4.70" fill="#60ff9f"/><circle cx="480.79" cy="233.35" r="4.70" fill="#bfff40"/><circle cx="480.79" cy="227.75" r="4.70" fill="#ffff00"/><circle cx="480.79" cy="222.16" r="4.70" fill="#ffef00"/><circle cx="480.79" cy="216.57" r="4.70" fill="#ffaf00"/><circle cx="480.79" cy="210.97" r="4.70" fill="#ff8f00"/><circle cx="480.79" cy="205.38" r="4.70" fill="#ff7000"/><circle cx="480.79" cy="199.79" r="4.70" fill="#ff5000"/><circle cx="480.79" cy="194.19" r="4.70" fill="#ff4000"/><circle cx="480.79" cy="188.60" r="4.70" fill="#ff2000"/><circle cx="480.79" cy="183.01" r="4.70" fill="#ff0000"/><circle cx="480.79" cy="177.41" r="4.70" fill="#ef0000"/><circle cx="480.79" cy="171.82" r="4.70" fill="#ef0000"/><circle cx="480.79" cy="166.22" r="4.70" fill="#df0000"/><circle cx="480.79" cy="160.63" r="4.70" fill="#bf0000"/><circle cx="480.79" cy="155.04" r="4.70" fill="#af0000"/><circle cx="480.79" cy="149.44" r="4.70" fill="#af0000"/><circle cx="480.79" cy="143.85" r="4.70" fill="#8f0000"/><circle cx="549.83" cy="204.67" r="4.70" fill="#0000bf"/><circle cx="549.83" cy="199.08" r="4.70" fill="#0070ff"/><circle cx="549.83" cy="193.49" r="4.70" fill="#10ffef"/><circle cx="549.83" cy="187.89" r="4.70" fill="#60ff9f"/><circle cx="549.83" cy="182.30" r="4.70" fill="#afff50"/><circle cx="549.83" cy="176.71" r="4.70" fill="#dfff20"/><circle cx="549.83" cy="171.11" r="4.70" fill="#ffff00"/><circle cx="549.83" cy="165.52" r="4.70" fill="#ffdf00"/><circle cx="549.83" cy="159.93" r="4.70" fill="#ffcf00"/><circle cx="549.83" cy="154.33" r="4.70" fill="#ffbf00"/><circle cx="549.83" cy="148.74" r="4.70" fill="#ffaf00"/><circle cx="549.83" cy="143.15" r="4.70" fill="#ff8f00"/><circle cx="549.83" cy="137.55" r="4.70" fill="#ff8000"/><circle cx="549.83" cy="131.96" r="4.70" fill="#ff7000"/><circle cx="549.83" cy="126.36" r="4.70" fill="#ff6000"/><circle cx="549.83" cy="120.77" r="4.70" fill="#ff5000"/><circle cx="549.83" cy="115.18" r="4.70" fill="#ff4000"/><circle cx="549.83" cy="109.58" r="4.70" fill="#ff2000"/><circle cx="549.83" cy="103.99" r="4.70" fill="#ff1000"/><circle cx="549.83" cy="98.40" r="4.70" fill="#ff0000"/><circle cx="549.83" cy="92.80" r="4.70" fill="#df0000"/><circle cx="540.42" cy="222.48" r="4.70" fill="#0000cf"/><circle cx="540.42" cy="216.88" r="4.70" fill="#0070ff"/><circle cx="540.42" cy="211.29" r="4.70" fill="#00ffff"/><circle cx="540.42" cy="205.70" r="4.70" fill="#70ff8f"/><circle cx="540.42" cy="200.10" r="4.70" fill="#bfff40"/><circle cx="540.42" cy="194.51" r="4.70" fill="#dfff20"/><circle cx="540.42" cy="188.91" r="4.70" fill="#ffff00"/><circle cx="540.42" cy="183.32" r="4.70" fill="#ffcf00"/><circle cx="540.42" cy="177.73" r="4.70" fill="#ffbf00"/><circle cx="540.42" cy="172.13" r="4.70" fill="#ff9f00"/><circle cx="540.42" cy="166.54" r="4.70" fill="#ff8f00"/><circle cx="540.42" cy="160.95" r="4.70" fill="#ff8000"/><circle cx="540.42" cy="155.35" r="4.70" fill="#ff7000"/><circle cx="540.42" cy="149.76" r="4.70" fill="#ff7000"/><circle cx="540.42" cy="144.17" r="4.70" fill="#ff6000"/><circle cx="540.42" cy="138.57" r="4.70" fill="#ff5000"/><circle cx="540.42" cy="132.98" r="4.70" fill="#ff4000"/><circle cx="540.42" cy="127.38" r="4.70" fill="#ff2000"/><circle cx="540.42" cy="121.79" r="4.70" fill="#ff2000"/><circle cx="540.42" cy="116.20" r="4.70" fill="#ff0000"/><circle cx="540.42" cy="110.60" r="4.70" fill="#df0000"/><circle cx="531.01" cy="240.28" r="4.70" fill="#0000bf"/><circle cx="531.01" cy="234.68" r="4.70" fill="#008fff"/><circle cx="531.01" cy="229.09" r="4.70" fill="#10ffef"/><circle cx="531.01" cy="223.50" r="4.70" fill="#70ff8f"/><circle cx="531.01" cy="217.90" r="4.70" fill="#bfff40"/><circle cx="531.01" cy="212.31" r="4.70" fill="#ffff00"/><circle cx="531.01" cy="206.72" r="4.70" fill="#ffdf00"/><circle cx="531.01" cy="201.12" r="4.70" fill="#ffaf00"/><circle cx="531.01" cy="195.53" r="4.70" fill="#ff9f00"/><circle cx="531.01" cy="189.94" r="4.70" fill="#ff8f00"/><circle cx="531.01" cy="184.34" r="4.70" fill="#ff8000"/><circle cx="531.01" cy="178.75" r="4.70" fill="#ff7000"/><circle cx="531.01" cy="173.15" r="4.70" fill="#ff6000"/><circle cx="531.01" cy="167.56" r="4.70" fill="#ff5000"/><circle cx="531.01" cy="161.97" r="4.70" fill="#ff4000"/><circle cx="531.01" cy="156.37" r="4.70" fill="#ff4000"/><circle cx="531.01" cy="150.78" r="4.70" fill="#ff3000"/><circle cx="531.01" cy="145.19" r="4.70" fill="#ff2000"/><circle cx="531.01" cy="139.59" r="4.70" fill="#ff0000"/><circle cx="531.01" cy="134.00" r="4.70" fill="#ef0000"/><circle cx="531.01" cy="128.41" r="4.70" fill="#cf0000"/><circle cx="521.59" cy="258.08" r="4.70" fill="#0000df"/><circle cx="521.59" cy="252.49" r="4.70" fill="#00afff"/><circle cx="521.59" cy="246.89" r="4.70" fill="#20ffdf"/><circle cx="521.59" cy="241.30" r="4.70" fill="#8fff70"/><circle cx="521.59" cy="235.70" r="4.70" fill="#cfff30"/><circle cx="521.59" cy="230.11" r="4.70" fill="#ffff00"/><circle cx="521.59" cy="224.52" r="4.70" fill="#ffcf00"/><circle cx="521.59" cy="218.92" r="4.70" fill="#ffaf00"/><circle cx="521.59" cy="213.33" r="4.70" fill="#ff8f00"/><circle cx="521.59" cy="207.74" r="4.70" fill="#ff7000"/><circle cx="521.59" cy="202.14" r="4.70" fill="#ff6000"/><circle cx="521.59" cy="196.55" r="4.70" fill="#ff5000"/><circle cx="521.59" cy="190.96" r="4.70" fill="#ff4000"/><circle cx="521.59" cy="185.36" r="4.70" fill="#ff3000"/><circle cx="521.59" cy="179.77" r="4.70" fill="#ff2000"/><circle cx="521.59" cy="174.17" r="4.70" fill="#ff0000"/><circle cx="521.59" cy="168.58" r="4.70" fill="#ef0000"/><circle cx="521.59" cy="162.99" r="4.70" fill="#ef0000"/><circle cx="521.59" cy="157.39" r="4.70" fill="#df0000"/><circle cx="521.59" cy="151.80" r="4.70" fill="#df0000"/><circle cx="521.59" cy="146.21" r="4.70" fill="#bf0000"/><circle cx="590.63" cy="207.03" r="4.70" fill="#0060ff"/><circle cx="590.63" cy="201.44" r="4.70" fill="#00ffff"/><circle cx="590.63" cy="195.84" r="4.70" fill="#50ffaf"/><circle cx="590.63" cy="190.25" r="4.70" fill="#8fff70"/><circle cx="590.63" cy="184.66" r="4.70" fill="#bfff40"/><circle cx="590.63" cy="179.06" r="4.70" fill="#efff10"/><circle cx="590.63" cy="173.47" r="4.70" fill="#ffff00"/><circle cx="590.63" cy="167.88" r="4.70" fill="#ffef00"/><circle cx="590.63" cy="162.28" r="4.70" fill="#ffcf00"/><circle cx="590.63" cy="156.69" r="4.70" fill="#ff9f00"/><circle cx="581.22" cy="224.83" r="4.70" fill="#0050ff"/><circle cx="581.22" cy="219.24" r="4.70" fill="#00ffff"/><circle cx="581.22" cy="213.65" r="4.70" fill="#50ffaf"/><circle cx="581.22" cy="208.05" r="4.70" fill="#9fff60"/><circle cx="581.22" cy="202.46" r="4.70" fill="#cfff30"/><circle cx="581.22" cy="196.86" r="4.70" fill="#ffff00"/><circle cx="581.22" cy="191.27" r="4.70" fill="#ffef00"/><circle cx="581.22" cy="185.68" r="4.70" fill="#ffdf00"/><circle cx="581.22" cy="180.08" r="4.70" fill="#ffbf00"/><circle cx="581.22" cy="174.49" r="4.70" fill="#ff9f00"/><circle cx="571.81" cy="242.63" r="4.70" fill="#0050ff"/><circle cx="571.81" cy="237.04" r="4.70" fill="#00efff"/><circle cx="571.81" cy="231.45" r="4.70" fill="#50ffaf"/><circle cx="571.81" cy="225.85" r="4.70" fill="#9fff60"/><circle cx="571.81" cy="220.26" r="4.70" fill="#cfff30"/><circle cx="571.81" cy="214.67" r="4.70" fill="#ffff00"/><circle cx="571.81" cy="209.07" r="4.70" fill="#ffef00"/><circle cx="571.81" cy="203.48" r="4.70" fill="#ffcf00"/><circle cx="571.81" cy="197.89" r="4.70" fill="#ffaf00"/><circle cx="571.81" cy="192.29" r="4.70" fill="#ff9f00"/><circle cx="562.39" cy="260.44" r="4.70" fill="#0060ff"/><circle cx="562.39" cy="254.84" r="4.70" fill="#00efff"/><circle cx="562.39" cy="249.25" r="4.70" fill="#50ffaf"/><circle cx="562.39" cy="243.65" r="4.70" fill="#8fff70"/><circle cx="562.39" cy="238.06" r="4.70" fill="#cfff30"/><circle cx="562.39" cy="232.47" r="4.70" fill="#ffff00"/><circle cx="562.39" cy="226.87" r="4.70" fill="#ffef00"/><circle cx="562.39" cy="221.28" r="4.70" fill="#ffcf00"/><circle cx="562.39" cy="215.69" r="4.70" fill="#ffbf00"/><circle cx="562.39" cy="210.09" r="4.70" fill="#ff9f00"/><circle cx="639.60" cy="209.86" r="4.70" fill="#10ffef"/><circle cx="639.60" cy="204.27" r="4.70" fill="#60ff9f"/><circle cx="639.60" cy="198.67" r="4.70" fill="#bfff40"/><circle cx="630.18" cy="227.66" r="4.70" fill="#10ffef"/><circle cx="630.18" cy="222.07" r="4.70" fill="#60ff9f"/><circle cx="630.18" cy="216.47" r="4.70" fill="#bfff40"/><circle cx="620.77" cy="245.46" r="4.70" fill="#10ffef"/><circle cx="620.77" cy="239.87" r="4.70" fill="#60ff9f"/><circle cx="620.77" cy="234.27" r="4.70" fill="#bfff40"/><circle cx="611.35" cy="263.26" r="4.70" fill="#10ffef"/><circle cx="611.35" cy="257.67" r="4.70" fill="#60ff9f"/><circle cx="611.35" cy="252.08" r="4.70" fill="#bfff40"/></g>
<g><defs><linearGradient id="cbL" x1="0" x2="1" y1="0" y2="0"><stop offset="0.00000" stop-color="#00008f"/><stop offset="0.01562" stop-color="#00008f"/><stop offset="0.01562" stop-color="#00009f"/><stop offset="0.03125" stop-color="#00009f"/><stop offset="0.03125" stop-color="#0000af"/><stop offset="0.04688" stop-color="#0000af"/><stop offset="0.04688" stop-color="#0000bf"/><stop offset="0.06250" stop-color="#0000bf"/><stop offset="0.06250" stop-color="#0000cf"/><stop offset="0.07812" stop-color="#0000cf"/><stop offset="0.07812" stop-color="#0000df"/><stop offset="0.09375" stop-color="#0000df"/><stop offset="0.09375" stop-color="#0000ef"/><stop offset="0.10938" stop-color="#0000ef"/><stop offset="0.10938" stop-color="#0000ff"/><stop offset="0.12500" stop-color="#0000ff"/><stop offset="0.12500" stop-color="#0010ff"/><stop offset="0.14062" stop-color="#0010ff"/><stop offset="0.14062" stop-color="#0020ff"/><stop offset="0.15625" stop-color="#0020ff"/><stop offset="0.15625" stop-color="#0030ff"/><stop offset="0.17188" stop-color="#0030ff"/><stop offset="0.17188" stop-color="#0040ff"/><stop offset="0.18750" stop-color="#0040ff"/><stop offset="0.18750" stop-color="#0050ff"/><stop offset="0.20312" stop-color="#0050ff"/><stop offset="0.20312" stop-color="#0060ff"/><stop offset="0.21875" stop-color="#0060ff"/><stop offset="0.21875" stop-color="#0070ff"/><stop offset="0.23438" stop-color="#0070ff"/><stop offset="0.23438" stop-color="#0080ff"/><stop offset="0.25000" stop-color="#0080ff"/><stop offset="0.25000" stop-color="#008fff"/><stop offset="0.26562" stop-color="#008fff"/><stop offset="0.26562" stop-color="#009fff"/><stop offset="0.28125" stop-color="#009fff"/><stop offset="0.28125" stop-color="#00afff"/><stop offset="0.29688" stop-color="#00afff"/><stop offset="0.29688" stop-color="#00bfff"/><stop offset="0.31250" stop-color="#00bfff"/><stop offset="0.31250" stop-color="#00cfff"/><stop offset="0.32812" stop-color="#00cfff"/><stop offset="0.32812" stop-color="#00dfff"/><stop offset="0.34375" stop-color="#00dfff"/><stop offset="0.34375" stop-color="#00efff"/><stop offset="0.35938" stop-color="#00efff"/><stop offset="0.35938" stop-color="#00ffff"/><stop offset="0.37500" stop-color="#00ffff"/><stop offset="0.37500" stop-color="#10ffef"/><stop offset="0.39062" stop-color="#10ffef"/><stop offset="0.39062" stop-color="#20ffdf"/><stop offset="0.40625" stop-color="#20ffdf"/><stop offset="0.40625" stop-color="#30ffcf"/><stop offset="0.42188" stop-color="#30ffcf"/><stop offset="0.42188" stop-color="#40ffbf"/><stop offset="0.43750" stop-color="#40ffbf"/><stop offset="0.43750" stop-color="#50ffaf"/><stop offset="0.45312" stop-color="#50ffaf"/><stop offset="0.45312" stop-color="#60ff9f"/><stop offset="0.46875" stop-color="#60ff9f"/><stop offset="0.46875" stop-color="#70ff8f"/><stop offset="0.48438" stop-color="#70ff8f"/><stop offset="0.48438" stop-color="#80ff80"/><stop offset="0.50000" stop-color="#80ff80"/><stop offset="0.50000" stop-color="#8fff70"/><stop offset="0.51562" stop-color="#8fff70"/><stop offset="0.51562" stop-color="#9fff60"/><stop offset="0.53125" stop-color="#9fff60"/><stop offset="0.53125" stop-color="#afff50"/><stop offset="0.54688" stop-color="#afff50"/><stop offset="0.54688" stop-color="#bfff40"/><stop offset="0.56250" stop-color="#bfff40"/><stop offset="0.56250" stop-color="#cfff30"/><stop offset="0.57812" stop-color="#cfff30"/><stop offset="0.57812" stop-color="#dfff20"/><stop offset="0.59375" stop-color="#dfff20"/><stop offset="0.59375" stop-color="#efff10"/><stop offset="0.60938" stop-color="#efff10"/><stop offset="0.60938" stop-color="#ffff00"/><stop offset="0.62500" stop-color="#ffff00"/><stop offset="0.62500" stop-color="#ffef00"/><stop offset="0.64062" stop-color="#ffef00"/><stop offset="0.64062" stop-color="#ffdf00"/><stop offset="0.65625" stop-color="#ffdf00"/><stop offset="0.65625" stop-color="#ffcf00"/><stop offset="0.67188" stop-color="#ffcf00"/><stop offset="0.67188" stop-color="#ffbf00"/><stop offset="0.68750" stop-color="#ffbf00"/><stop offset="0.68750" stop-color="#ffaf00"/><stop offset="0.70312" stop-color="#ffaf00"/><stop offset="0.70312" stop-color="#ff9f00"/><stop offset="0.71875" stop-color="#ff9f00"/><stop offset="0.71875" stop-color="#ff8f00"/><stop offset="0.73438" stop-color="#ff8f00"/><stop offset="0.73438" stop-color="#ff8000"/><stop offset="0.75000" stop-color="#ff8000"/><stop offset="0.75000" stop-color="#ff7000"/><stop offset="0.76562" stop-color="#ff7000"/><stop offset="0.76562" stop-color="#ff6000"/><stop offset="0.78125" stop-color="#ff6000"/><stop offset="0.78125" stop-color="#ff5000"/><stop offset="0.79688" stop-color="#ff5000"/><stop offset="0.79688" stop-color="#ff4000"/><stop offset="0.81250" stop-color="#ff4000"/><stop offset="0.81250" stop-color="#ff3000"/><stop offset="0.82812" stop-color="#ff3000"/><stop offset="0.82812" stop-color="#ff2000"/><stop offset="0.84375" stop-color="#ff2000"/><stop offset="0.84375" stop-color="#ff1000"/><stop offset="0.85938" stop-color="#ff1000"/><stop offset="0.85938" stop-color="#ff0000"/><stop offset="0.87500" stop-color="#ff0000"/><stop offset="0.87500" stop-color="#ef0000"/><stop offset="0.89062" stop-color="#ef0000"/><stop offset="0.89062" stop-color="#df0000"/><stop offset="0.90625" stop-color="#df0000"/><stop offset="0.90625" stop-color="#cf0000"/><stop offset="0.92188" stop-color="#cf0000"/><stop offset="0.92188" stop-color="#bf0000"/><stop offset="0.93750" stop-color="#bf0000"/><stop offset="0.93750" stop-color="#af0000"/><stop offset="0.95312" stop-color="#af0000"/><stop offset="0.95312" stop-color="#9f0000"/><stop offset="0.96875" stop-color="#9f0000"/><stop offset="0.96875" stop-color="#8f0000"/><stop offset="0.98438" stop-color="#8f0000"/><stop offset="0.98438" stop-color="#800000"/><stop offset="1.00000" stop-color="#800000"/></linearGradient></defs><rect x="42.90" y="43.90" width="249.90" height="18.00" fill="url(#cbL)" stroke="#333" stroke-width="0.8"/><line x1="52.10" y1="43.90" x2="52.10" y2="46.40" stroke="#333" stroke-width="0.8"/><text x="51.20" y="35.90" text-anchor="middle" font-family="Liberation Sans" font-size="13.3" fill="#1a1a1a" stroke="#1a1a1a" stroke-width="0.15">2</text><line x1="91.09" y1="43.90" x2="91.09" y2="46.40" stroke="#333" stroke-width="0.8"/><text x="87.90" y="35.90" text-anchor="middle" font-family="Liberation Sans" font-size="13.3" fill="#1a1a1a" stroke="#1a1a1a" stroke-width="0.15">7</text><line x1="130.07" y1="43.90" x2="130.07" y2="46.40" stroke="#333" stroke-width="0.8"/><text x="128.10" y="35.90" text-anchor="middle" font-family="Liberation Sans" font-size="13.3" fill="#1a1a1a" stroke="#1a1a1a" stroke-width="0.15">12</text><line x1="169.06" y1="43.90" x2="169.06" y2="46.40" stroke="#333" stroke-width="0.8"/><text x="160.50" y="35.90" text-anchor="middle" font-family="Liberation Sans" font-size="13.3" fill="#1a1a1a" stroke="#1a1a1a" stroke-width="0.15">17</text><line x1="208.04" y1="43.90" x2="208.04" y2="46.40" stroke="#333" stroke-width="0.8"/><text x="196.50" y="35.90" text-anchor="middle" font-family="Liberation Sans" font-size="13.3" fill="#1a1a1a" stroke="#1a1a1a" stroke-width="0.15">22</text><line x1="247.03" y1="43.90" x2="247.03" y2="46.40" stroke="#333" stroke-width="0.8"/><text x="233.00" y="35.90" text-anchor="middle" font-family="Liberation Sans" font-size="13.3" fill="#1a1a1a" stroke="#1a1a1a" stroke-width="0.15">27</text><line x1="286.01" y1="43.90" x2="286.01" y2="46.40" stroke="#333" stroke-width="0.8"/><text x="273.00" y="35.90" text-anchor="middle" font-family="Liberation Sans" font-size="13.3" fill="#1a1a1a" stroke="#1a1a1a" stroke-width="0.15">32</text></g>
<g><defs><linearGradient id="cbR" x1="0" x2="1" y1="0" y2="0"><stop offset="0.00000" stop-color="#800000"/><stop offset="0.01562" stop-color="#800000"/><stop offset="0.01562" stop-color="#8f0000"/><stop offset="0.03125" stop-color="#8f0000"/><stop offset="0.03125" stop-color="#9f0000"/><stop offset="0.04688" stop-color="#9f0000"/><stop offset="0.04688" stop-color="#af0000"/><stop offset="0.06250" stop-color="#af0000"/><stop offset="0.06250" stop-color="#bf0000"/><stop offset="0.07812" stop-color="#bf0000"/><stop offset="0.07812" stop-color="#cf0000"/><stop offset="0.09375" stop-color="#cf0000"/><stop offset="0.09375" stop-color="#df0000"/><stop offset="0.10938" stop-color="#df0000"/><stop offset="0.10938" stop-color="#ef0000"/><stop offset="0.12500" stop-color="#ef0000"/><stop offset="0.12500" stop-color="#ff0000"/><stop offset="0.14062" stop-color="#ff0000"/><stop offset="0.14062" stop-color="#ff1000"/><stop offset="0.15625" stop-color="#ff1000"/><stop offset="0.15625" stop-color="#ff2000"/><stop offset="0.17188" stop-color="#ff2000"/><stop offset="0.17188" stop-color="#ff3000"/><stop offset="0.18750" stop-color="#ff3000"/><stop offset="0.18750" stop-color="#ff4000"/><stop offset="0.20312" stop-color="#ff4000"/><stop offset="0.20312" stop-color="#ff5000"/><stop offset="0.21875" stop-color="#ff5000"/><stop offset="0.21875" stop-color="#ff6000"/><stop offset="0.23438" stop-color="#ff6000"/><stop offset="0.23438" stop-color="#ff7000"/><stop offset="0.25000" stop-color="#ff7000"/><stop offset="0.25000" stop-color="#ff8000"/><stop offset="0.26562" stop-color="#ff8000"/><stop offset="0.26562" stop-color="#ff8f00"/><stop offset="0.28125" stop-color="#ff8f00"/><stop offset="0.28125" stop-color="#ff9f00"/><stop offset="0.29688" stop-color="#ff9f00"/><stop offset="0.29688" stop-color="#ffaf00"/><stop offset="0.31250" stop-color="#ffaf00"/><stop offset="0.31250" stop-color="#ffbf00"/><stop offset="0.32812" stop-color="#ffbf00"/><stop offset="0.32812" stop-color="#ffcf00"/><stop offset="0.34375" stop-color="#ffcf00"/><stop offset="0.34375" stop-color="#ffdf00"/><stop offset="0.35938" stop-color="#ffdf00"/><stop offset="0.35938" stop-color="#ffef00"/><stop offset="0.37500" stop-color="#ffef00"/><stop offset="0.37500" stop-color="#ffff00"/><stop offset="0.39062" stop-color="#ffff00"/><stop offset="0.39062" stop-color="#efff10"/><stop offset="0.40625" stop-color="#efff10"/><stop offset="0.40625" stop-color="#dfff20"/><stop offset="0.42188" stop-color="#dfff20"/><stop offset="0.42188" stop-color="#cfff30"/><stop offset="0.43750" stop-color="#cfff30"/><stop offset="0.43750" stop-color="#bfff40"/><stop offset="0.45312" stop-color="#bfff40"/><stop offset="0.45312" stop-color="#afff50"/><stop offset="0.46875" stop-color="#afff50"/><stop offset="0.46875" stop-color="#9fff60"/><stop offset="0.48438" stop-color="#9fff60"/><stop offset="0.48438" stop-color="#8fff70"/><stop offset="0.50000" stop-color="#8fff70"/><stop offset="0.50000" stop-color="#80ff80"/><stop offset="0.51562" stop-color="#80ff80"/><stop offset="0.51562" stop-color="#70ff8f"/><stop offset="0.53125" stop-color="#70ff8f"/><stop offset="0.53125" stop-color="#60ff9f"/><stop offset="0.54688" stop-color="#60ff9f"/><stop offset="0.54688" stop-color="#50ffaf"/><stop offset="0.56250" stop-color="#50ffaf"/><stop offset="0.56250" stop-color="#40ffbf"/><stop offset="0.57812" stop-color="#40ffbf"/><stop offset="0.57812" stop-color="#30ffcf"/><stop offset="0.59375" stop-color="#30ffcf"/><stop offset="0.59375" stop-color="#20ffdf"/><stop offset="0.60938" stop-color="#20ffdf"/><stop offset="0.60938" stop-color="#10ffef"/><stop offset="0.62500" stop-color="#10ffef"/><stop offset="0.62500" stop-color="#00ffff"/><stop offset="0.64062" stop-color="#00ffff"/><stop offset="0.64062" stop-color="#00efff"/><stop offset="0.65625" stop-color="#00efff"/><stop offset="0.65625" stop-color="#00dfff"/><stop offset="0.67188" stop-color="#00dfff"/><stop offset="0.67188" stop-color="#00cfff"/><stop offset="0.68750" stop-color="#00cfff"/><stop offset="0.68750" stop-color="#00bfff"/><stop offset="0.70312" stop-color="#00bfff"/><stop offset="0.70312" stop-color="#00afff"/><stop offset="0.71875" stop-color="#00afff"/><stop offset="0.71875" stop-color="#009fff"/><stop offset="0.73438" stop-color="#009fff"/><stop offset="0.73438" stop-color="#008fff"/><stop offset="0.75000" stop-color="#008fff"/><stop offset="0.75000" stop-color="#0080ff"/><stop offset="0.76562" stop-color="#0080ff"/><stop offset="0.76562" stop-color="#0070ff"/><stop offset="0.78125" stop-color="#0070ff"/><stop offset="0.78125" stop-color="#0060ff"/><stop offset="0.79688" stop-color="#0060ff"/><stop offset="0.79688" stop-color="#0050ff"/><stop offset="0.81250" stop-color="#0050ff"/><stop offset="0.81250" stop-color="#0040ff"/><stop offset="0.82812" stop-color="#0040ff"/><stop offset="0.82812" stop-color="#0030ff"/><stop offset="0.84375" stop-color="#0030ff"/><stop offset="0.84375" stop-color="#0020ff"/><stop offset="0.85938" stop-color="#0020ff"/><stop offset="0.85938" stop-color="#0010ff"/><stop offset="0.87500" stop-color="#0010ff"/><stop offset="0.87500" stop-color="#0000ff"/><stop offset="0.89062" stop-color="#0000ff"/><stop offset="0.89062" stop-color="#0000ef"/><stop offset="0.90625" stop-color="#0000ef"/><stop offset="0.90625" stop-color="#0000df"/><stop offset="0.92188" stop-color="#0000df"/><stop offset="0.92188" stop-color="#0000cf"/><stop offset="0.93750" stop-color="#0000cf"/><stop offset="0.93750" stop-color="#0000bf"/><stop offset="0.95312" stop-color="#0000bf"/><stop offset="0.95312" stop-color="#0000af"/><stop offset="0.96875" stop-color="#0000af"/><stop offset="0.96875" stop-color="#00009f"/><stop offset="0.98438" stop-color="#00009f"/><stop offset="0.98438" stop-color="#00008f"/><stop offset="1.00000" stop-color="#00008f"/></linearGradient></defs><rect x="407.20" y="43.30" width="250.60" height="18.20" fill="url(#cbR)" stroke="#333" stroke-width="0.8"/><line x1="449.70" y1="43.30" x2="449.70" y2="45.80" stroke="#333" stroke-width="0.8"/><text x="449.70" y="35.90" text-anchor="middle" font-family="Liberation Sans" font-size="13.3" fill="#1a1a1a" stroke="#1a1a1a" stroke-width="0.15">1.00</text><line x1="503.60" y1="43.30" x2="503.60" y2="45.80" stroke="#333" stroke-width="0.8"/><text x="503.60" y="35.90" text-anchor="middle" font-family="Liberation Sans" font-size="13.3" fill="#1a1a1a" stroke="#1a1a1a" stroke-width="0.15">1.65</text><line x1="557.50" y1="43.30" x2="557.50" y2="45.80" stroke="#333" stroke-width="0.8"/><text x="557.50" y="35.90" text-anchor="middle" font-family="Liberation Sans" font-size="13.3" fill="#1a1a1a" stroke="#1a1a1a" stroke-width="0.15">2.72</text><line x1="611.40" y1="43.30" x2="611.40" y2="45.80" stroke="#333" stroke-width="0.8"/><text x="611.40" y="35.90" text-anchor="middle" font-family="Liberation Sans" font-size="13.3" fill="#1a1a1a" stroke="#1a1a1a" stroke-width="0.15">4.48</text></g>
<text class="sr" x="0.3" y="14.8" font-size="20" font-weight="bold">(a)</text>
<text class="sr" x="357.4" y="14.8" font-size="20" font-weight="bold">(b)</text>
<text class="sr" x="121.9" y="20.8" font-size="16.5" font-style="italic">T</text>
<text class="sr" x="130.75" y="22.2" font-size="10.3" font-style="italic">ea,out</text>
<text class="sr" x="160.75" y="20.8" font-size="16.6">[°C]</text>
<text class="sr" x="520.3" y="20.6" font-size="16.5" font-style="italic">COP</text>
<text class="sr" x="123.40" y="323.40" font-size="16.6" font-style="italic">ṁ</text>
<text class="sr" x="134.05" y="325.30" font-size="10.7" font-style="italic">ea</text>
<text class="sr" x="148.35" y="323.40" font-size="16.6">[kg/s]</text>
<text class="sr" x="248.60" y="308.60" font-size="16.6" font-style="italic">ṁ</text>
<text class="sr" x="259.85" y="310.70" font-size="10.7" font-style="italic">ca</text>
<text class="sr" x="274.35" y="308.60" font-size="16.6">[kg/s]</text>
<g transform="translate(12.10,246.50) rotate(-90)"><text class="sr" x="-0.5" y="0" font-size="16.6" font-style="italic">ω</text><text class="sr" x="11.95" y="2.0" font-size="10.7" font-style="italic">com</text><text class="sr" x="33.80" y="0" font-size="16.6">[rad/s]</text></g>
<text class="sr" x="489.50" y="323.40" font-size="16.6" font-style="italic">ṁ</text>
<text class="sr" x="500.45" y="325.30" font-size="10.7" font-style="italic">ea</text>
<text class="sr" x="515.50" y="323.40" font-size="16.1">[kg/s]</text>
<text class="sr" x="613.30" y="309.10" font-size="16.6" font-style="italic">ṁ</text>
<text class="sr" x="624.55" y="311.20" font-size="10.7" font-style="italic">ca</text>
<text class="sr" x="639.40" y="309.10" font-size="16.1">[kg/s]</text>
<g transform="translate(374.30,233.60) rotate(-90)"><text class="sr" x="-0.5" y="0" font-size="16.6" font-style="italic">ω</text><text class="sr" x="12.05" y="2.0" font-size="10.7" font-style="italic">com</text><text class="sr" x="32.40" y="0" font-size="17.9" textLength="44.60" lengthAdjust="spacingAndGlyphs">[rad/s]</text></g>
</svg></body></html>
